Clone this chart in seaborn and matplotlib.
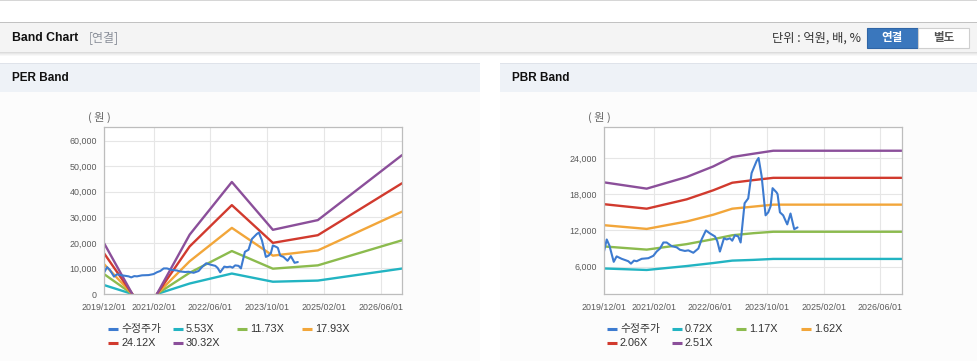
import pandas as pd
import matplotlib
matplotlib.use('Agg')
import matplotlib.pyplot as plt
from matplotlib.patches import Rectangle
from matplotlib.ticker import FuncFormatter
import seaborn as sns

# ---- data ----
price_dates = ['2019-12-01', '2019-12-27', '2020-01-19', '2020-02-25', '2020-03-21', '2020-05-03',
               '2020-06-01', '2020-06-29', '2020-07-22', '2020-08-17', '2020-09-09', '2020-10-22',
               '2020-12-18', '2021-01-30', '2021-02-27', '2021-03-28', '2021-04-26', '2021-05-24',
               '2021-07-06', '2021-08-18', '2021-09-15', '2021-10-28', '2021-11-26', '2022-01-08',
               '2022-02-20', '2022-03-20', '2022-04-26', '2022-05-31', '2022-07-13', '2022-08-02',
               '2022-08-24', '2022-09-28', '2022-10-21', '2022-11-18', '2022-12-08', '2022-12-31',
               '2023-01-29', '2023-02-18', '2023-03-24', '2023-04-24', '2023-05-23', '2023-07-05',
               '2023-07-22', '2023-08-17', '2023-09-20', '2023-10-13', '2023-11-02', '2023-11-19',
               '2023-12-23', '2024-01-01', '2024-01-21', '2024-02-18', '2024-03-12', '2024-03-24',
               '2024-04-21', '2024-05-23', '2024-06-20']
price_vals = [8300, 10500, 9500, 6800, 7700, 7300,
              7100, 6900, 6500, 7000, 6900, 7300,
              7400, 7800, 8500, 9000, 10000, 10000,
              9400, 9200, 8800, 8600, 8700, 8300,
              9000, 10500, 12000, 11500, 11000, 10200,
              8500, 10700, 10500, 10700, 10300, 11200,
              11000, 10000, 16500, 17300, 21500, 23500,
              24000, 21000, 14500, 15000, 16000, 19000,
              18300, 18000, 15000, 14500, 13500, 13000,
              14800, 12200, 12500]

per_labels = ['5.53X', '11.73X', '17.93X', '24.12X', '30.32X']
per_dates_a = ['2019-12-01', '2020-07-31']
per_dates_b = ['2021-02-27', '2021-12-05', '2022-12-02', '2023-11-19', '2024-12-09', '2026-12-01']
per_vals_a = [[3500, 0], [7800, 0], [11700, 0], [15950, 0], [19900, 0]]
per_vals_b = [[0, 4100, 8000, 4800, 5250, 9950],
              [0, 8300, 16800, 9900, 11200, 21000],
              [0, 12800, 25850, 15000, 17050, 32200],
              [0, 18600, 34750, 20000, 23000, 43300],
              [0, 23200, 43800, 25100, 28900, 54300]]

pbr_labels = ['0.72X', '1.17X', '1.62X', '2.06X', '2.51X']
pbr_dates = ['2019-12-01', '2020-12-04', '2021-11-12', '2022-06-28', '2022-12-08',
             '2023-06-06', '2023-11-25', '2026-12-01']
pbr_vals = [[5700, 5450, 6100, 6600, 7000, 7120, 7280, 7280],
            [9350, 8820, 9730, 10550, 11200, 11540, 11780, 11780],
            [12870, 12250, 13480, 14600, 15600, 15940, 16270, 16270],
            [16350, 15600, 17150, 18650, 19900, 20330, 20710, 20710],
            [19970, 18920, 20850, 22600, 24160, 24700, 25200, 25200]]

tick_dates = ['2019-12-01', '2021-02-01', '2022-06-01', '2023-10-01', '2025-02-01', '2026-06-01']
tick_labels = ['2019/12/01', '2021/02/01', '2022/06/01', '2023/10/01', '2025/02/01', '2026/06/01']
per_yticks = [0, 10000, 20000, 30000, 40000, 50000, 60000]
pbr_yticks = [6000, 12000, 18000, 24000]

price_color = '#3d7bd0'
band_colors = ['#22b4c2', '#8cbb4e', '#f2a63a', '#d13a2e', '#8b4f9a']

sns.set_style('white')
plt.rcParams['font.family'] = ['Liberation Sans', 'Noto Sans CJK KR', 'DejaVu Sans']
KR = ['Noto Sans CJK KR', 'DejaVu Sans']

W, H = 978, 361
fig = plt.figure(figsize=(W / 100, H / 100), dpi=100)
bg = fig.add_axes([0, 0, 1, 1])
bg.set_xlim(0, W)
bg.set_ylim(H, 0)
bg.axis('off')


def rect(x, y, w, h, fc, ec='none', lw=0):
    bg.add_patch(Rectangle((x, y), w, h, facecolor=fc, edgecolor=ec, linewidth=lw))


# page header
rect(0, 0, W, 1, '#d6d6d6')
rect(0, 22, W, 1, '#c2c2c2')
rect(0, 23, W, 29, '#f4f4f4')
for i, c in enumerate(['#dcdcdc', '#e8e8e8', '#f1f1f1', '#f8f8f8']):
    rect(0, 52 + i, W, 1, c)
bg.text(12, 38, 'Band Chart', fontsize=8.8, fontweight='bold', color='#111111', va='center',
        family=['Liberation Sans'])
bg.text(89, 38, '[연결]', fontsize=8.6, color='#8a8f99', va='center', family=KR)
bg.text(861, 38, '단위 : 억원, 배, %', fontsize=8.8, color='#333333', va='center', ha='right', family=KR)
rect(867, 28, 51, 20, '#3a77bd', '#2f65a6', 0.8)
rect(918, 28, 51, 20, '#ffffff', '#cfcfcf', 0.8)
bg.text(892.5, 38, '연결', fontsize=8.3, fontweight='bold', color='white', ha='center', va='center', family=KR)
bg.text(943.5, 38, '별도', fontsize=8.3, fontweight='bold', color='#555555', ha='center', va='center', family=KR)

# panels
for px, pw, title in [(0, 480, 'PER Band'), (500, 478, 'PBR Band')]:
    rect(px, 63, pw, 1, '#dfe3ea')
    rect(px, 64, pw, 28, '#eef2f7')
    rect(px, 92, pw, H - 92, '#fcfcfc')
    bg.text(px + 12, 78, title, fontsize=8.5, fontweight='bold', color='#111111', va='center',
            family=['Liberation Sans'])

fmt = FuncFormatter(lambda v, p: f'{v:,.0f}')
ticks_dt = pd.to_datetime(tick_dates)
xmin, xmax = pd.Timestamp('2019-12-01'), pd.Timestamp('2026-12-01')


def setup_axes(left, ylim, yticks):
    ax = fig.add_axes([left / W, (H - 294) / H, 298 / W, 167 / H])
    ax.set_facecolor('white')
    ax.set_xlim(xmin, xmax)
    ax.set_ylim(*ylim)
    ax.set_xticks(ticks_dt)
    ax.set_xticklabels(tick_labels)
    ax.set_yticks(yticks)
    ax.yaxis.set_major_formatter(fmt)
    ax.grid(True, color='#e6e6e6', linewidth=0.8)
    ax.set_axisbelow(True)
    for s in ax.spines.values():
        s.set_color('#bdbdbd')
        s.set_linewidth(0.9)
    ax.tick_params(axis='both', length=3, width=0.8, color='#bdbdbd', labelcolor='#5a5a5a',
                   labelsize=6.4)
    ax.tick_params(axis='x', pad=3.5)
    ax.tick_params(axis='y', pad=2)
    return ax


pd_price = pd.to_datetime(price_dates)

# PER
ax1 = setup_axes(104, (0, 65300), per_yticks)
da, db = pd.to_datetime(per_dates_a), pd.to_datetime(per_dates_b)
for va, vb, c in zip(per_vals_a, per_vals_b, band_colors):
    sns.lineplot(x=da, y=va, color=c, linewidth=1.7, ax=ax1)
    sns.lineplot(x=db, y=vb, color=c, linewidth=1.7, ax=ax1)
sns.lineplot(x=pd_price, y=price_vals, color=price_color, linewidth=1.5, ax=ax1)
ax1.set_xlabel('')
ax1.set_ylabel('')

# PBR
ax2 = setup_axes(603.7, (1470, 29130), pbr_yticks)
dp = pd.to_datetime(pbr_dates)
for vals, c in zip(pbr_vals, band_colors):
    sns.lineplot(x=dp, y=vals, color=c, linewidth=1.7, ax=ax2)
sns.lineplot(x=pd_price, y=price_vals, color=price_color, linewidth=1.5, ax=ax2)
ax2.set_xlabel('')
ax2.set_ylabel('')

for x in (99, 599):
    bg.text(x, 117, '( 원 )', fontsize=8, color='#666666', ha='center', va='center', family=KR)


# legends
def legend(x0, labels):
    items = [('수정주가', price_color)] + list(zip(labels, band_colors))
    for i, (lab, c) in enumerate(items):
        col, row = i % 4, i // 4
        x = x0 + col * 64.6
        y = 329 + row * 13.7
        bg.plot([x, x + 10], [y, y], color=c, linewidth=2.2, solid_capstyle='butt')
        bg.text(x + 13, y, lab, fontsize=7.8, color='#333333', va='center')


legend(108, per_labels)
legend(607, pbr_labels)

fig.savefig('out.png', dpi=100)
